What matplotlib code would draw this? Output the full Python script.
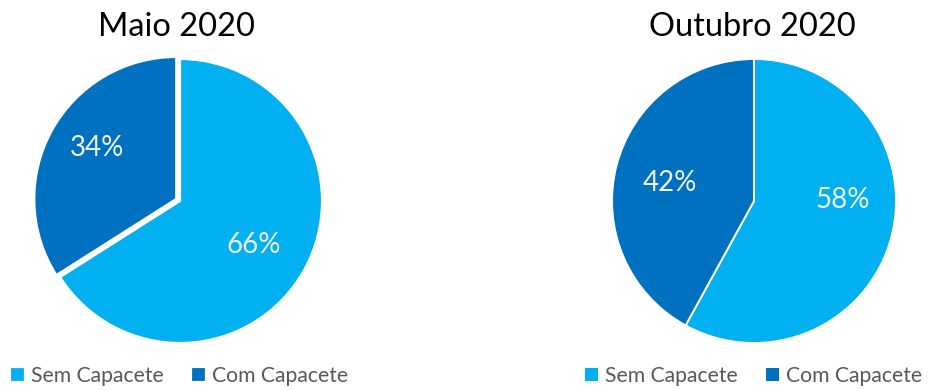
import matplotlib
matplotlib.use("Agg")
import matplotlib.pyplot as plt

plt.rcParams['font.family'] = ['Lato', 'DejaVu Sans']

categories = ["Sem Capacete", "Com Capacete"]
titles = ["Maio 2020", "Outubro 2020"]
values_maio = [66, 34]
values_outubro = [58, 42]
colors = ["#00B0F0", "#0070C0"]

W, H = 932, 390
fig = plt.figure(figsize=(W / 100, H / 100), dpi=100)

R = 142


def pie_axes(cx, cy):
    return fig.add_axes([(cx - R) / W, (H - cy - R) / H, 2 * R / W, 2 * R / H])


panels = [
    dict(cx=180, cy=201, values=values_maio, explode=[0, 0.03], lw=1.6,
         label_pos=[(0.52, -0.31), (-0.585, 0.37)], title_x=177,
         legend_x=10),
    dict(cx=754, cy=201, values=values_outubro, explode=[0, 0.0], lw=1.4,
         label_pos=[(0.625, 0.01), (-0.59, 0.127)], title_x=752,
         legend_x=584),
]

for title, p in zip(titles, panels):
    ax = pie_axes(p["cx"], p["cy"])
    wedges, texts, autotexts = ax.pie(
        p["values"], colors=colors, startangle=90, counterclock=False,
        explode=p["explode"], autopct="%1.0f%%", pctdistance=0.6,
        wedgeprops=dict(edgecolor="white", linewidth=p["lw"]),
        textprops=dict(color="#F2F2F2", fontsize=20))
    for t, pos in zip(autotexts, p["label_pos"]):
        t.set_position(pos)
    for w in wedges:
        w.set_clip_on(False)
    ax.set_xlim(-1, 1)
    ax.set_ylim(-1, 1)
    ax.set_aspect("equal")
    fig.text(p["title_x"] / W, (H - 27) / H, title, ha="center", va="center",
             fontsize=23.5, color="black")
    leg = fig.legend(wedges, categories, loc="center left",
                     bbox_to_anchor=(p["legend_x"] / W, (H - 376) / H),
                     ncol=2, frameon=False, fontsize=15.2,
                     handlelength=0.7, handleheight=0.7, handletextpad=0.3,
                     columnspacing=1.3, borderaxespad=0, borderpad=0)
    for t in leg.get_texts():
        t.set_color("#595959")

fig.savefig("out.png", dpi=100)
